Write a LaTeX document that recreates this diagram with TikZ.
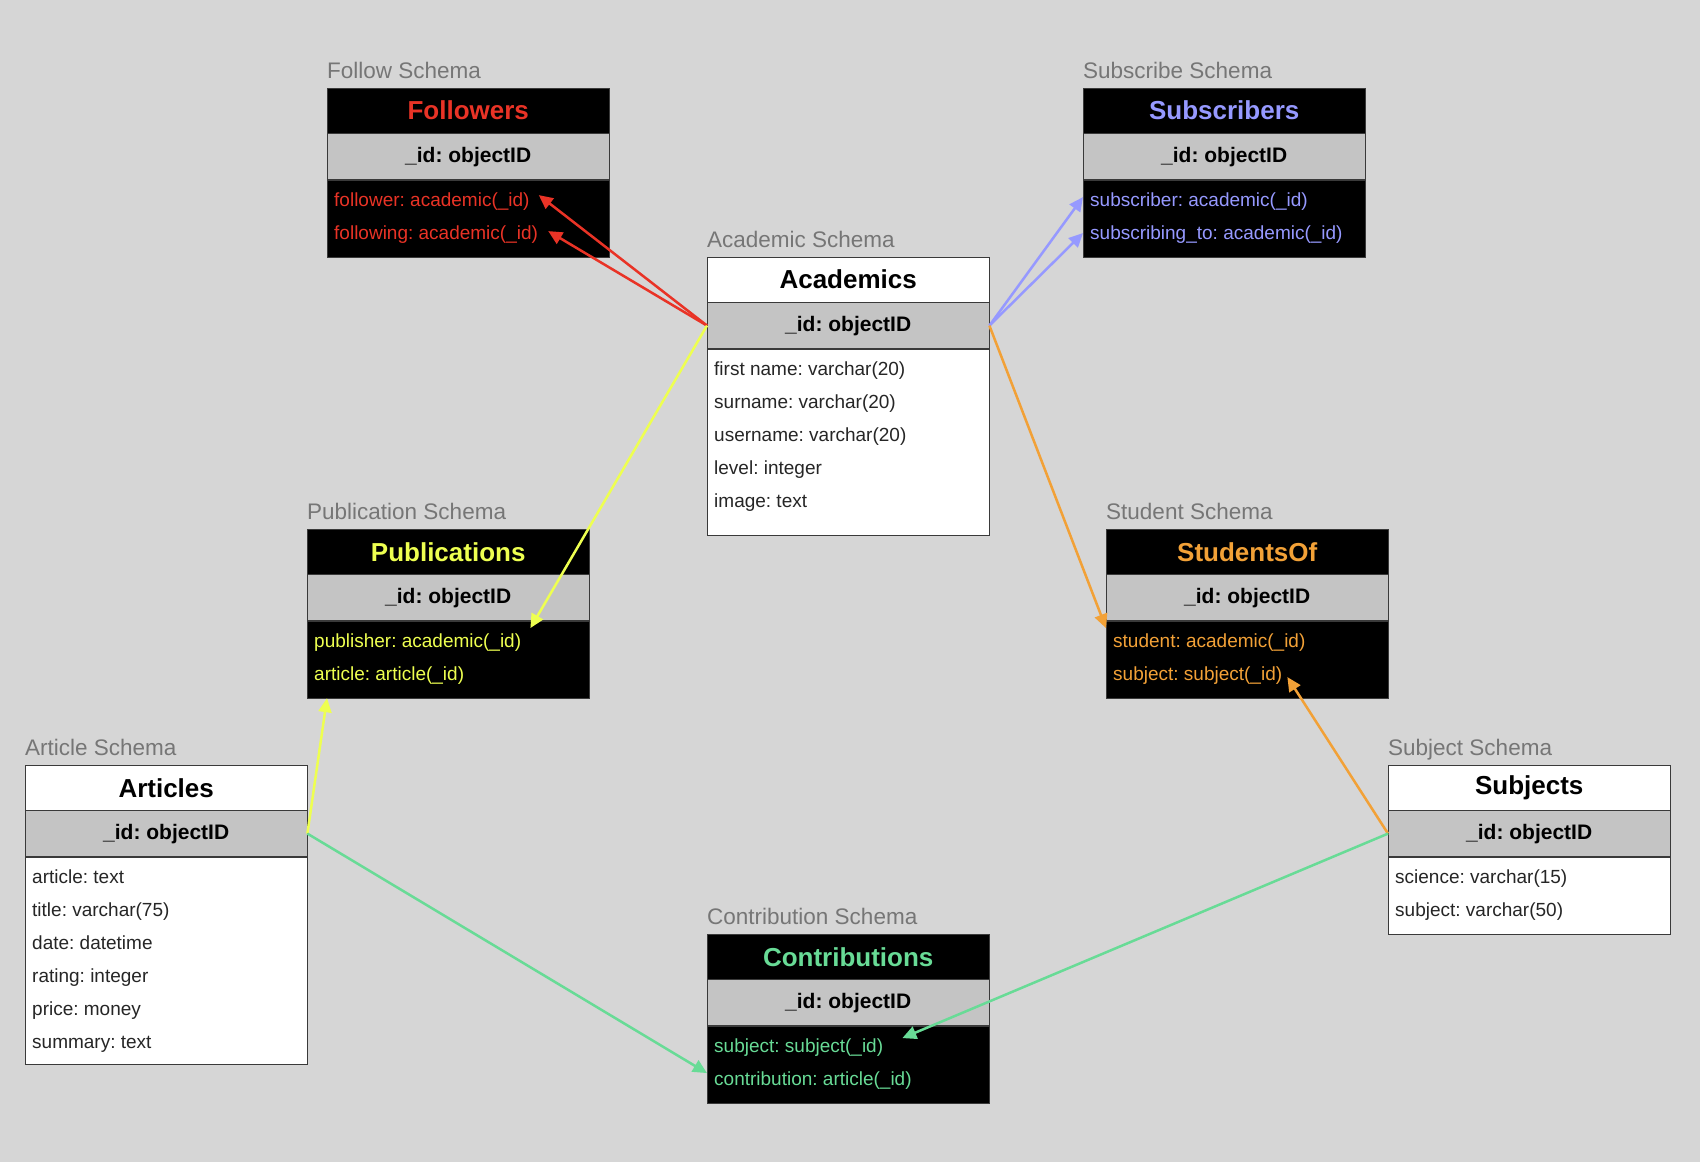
\documentclass[tikz,border=0pt]{standalone}
\usepackage{fontspec}
\setmainfont{Liberation Sans}
\usetikzlibrary{arrows.meta}
\frenchspacing
\definecolor{bggrey}{HTML}{D6D6D6}
\definecolor{idgrey}{HTML}{C4C4C4}
\definecolor{labelgrey}{HTML}{767676}
\definecolor{edgegrey}{HTML}{3A3A3A}
\definecolor{fkred}{RGB}{233,51,38}
\definecolor{fkblue}{RGB}{150,153,255}
\definecolor{fkyellow}{RGB}{238,255,80}
\definecolor{fkorange}{RGB}{242,161,55}
\definecolor{fkgreen}{RGB}{104,219,150}

\begin{document}
\begin{tikzpicture}[
  x=1pt, y=-1pt,
  every node/.style={font=\fontsize{19}{22}\selectfont},
  schema/.style={anchor=base west, inner sep=0pt, text=labelgrey,
    font=\fontsize{22.5}{26}\selectfont},
  head/.style={draw=edgegrey, anchor=north west, minimum width=282pt,
    minimum height=45pt, inner sep=0pt, font=\fontsize{26}{30}\selectfont\bfseries},
  light head/.style={head, fill=white, text=black},
  dark head/.style={head, fill=black},
  idrow/.style={draw=edgegrey, fill=idgrey, anchor=north, minimum width=282pt,
    minimum height=46pt, inner sep=0pt, font=\fontsize{21}{25}\selectfont\bfseries},
  body/.style={draw=edgegrey, anchor=north, minimum width=282pt, inner sep=0pt},
  light body/.style={body, fill=white},
  dark body/.style={body, fill=black},
  row/.style={anchor=base west, inner sep=0pt},
  fk/.style={line width=2.5pt, -{Triangle[length=14pt,width=13pt]}}
]
\fill[bggrey] (0,0) rectangle (1700,1162);

\node[schema] (follow-label) at (327,78) {Follow Schema};
\node[dark head, text=fkred] (followers) at (327,88) {Followers};
\node[idrow] (followers-id) at (followers.south) {\_id: objectID};
\node[dark body, minimum height=77pt] (followers-body) at (followers-id.south) {};
\node[row, text=fkred] (follower) at (334,206) {follower: academic(\_id)};
\node[row, text=fkred] (following) at (334,239) {following: academic(\_id)};

\node[schema] (subscribe-label) at (1083,78) {Subscribe Schema};
\node[dark head, text=fkblue] (subscribers) at (1083,88) {Subscribers};
\node[idrow] (subscribers-id) at (subscribers.south) {\_id: objectID};
\node[dark body, minimum height=77pt] (subscribers-body) at (subscribers-id.south) {};
\node[row, text=fkblue] (subscriber) at (1090,206) {subscriber: academic(\_id)};
\node[row, text=fkblue] (subscribing) at (1090,239) {subscribing\_to: academic(\_id)};

\node[schema] (academic-label) at (707,247) {Academic Schema};
\node[light head] (academics) at (707,257) {Academics};
\node[idrow] (academics-id) at (academics.south) {\_id: objectID};
\node[light body, minimum height=186pt] (academics-body) at (academics-id.south) {};
\node[row, text=black!85] (firstname) at (714,375) {first name: varchar(20)};
\node[row, text=black!85] (surname) at (714,408) {surname: varchar(20)};
\node[row, text=black!85] (username) at (714,441) {username: varchar(20)};
\node[row, text=black!85] (level) at (714,474) {level: integer};
\node[row, text=black!85] (image) at (714,507) {image: text};

\node[schema] (publication-label) at (307,519) {Publication Schema};
\node[dark head, text=fkyellow] (publications) at (307,529) {Publications};
\node[idrow] (publications-id) at (publications.south) {\_id: objectID};
\node[dark body, minimum height=77pt] (publications-body) at (publications-id.south) {};
\node[row, text=fkyellow] (publisher) at (314,647) {publisher: academic(\_id)};
\node[row, text=fkyellow] (pub-article) at (314,680) {article: article(\_id)};

\node[schema] (student-label) at (1106,519) {Student Schema};
\node[dark head, text=fkorange] (students) at (1106,529) {StudentsOf};
\node[idrow] (students-id) at (students.south) {\_id: objectID};
\node[dark body, minimum height=77pt] (students-body) at (students-id.south) {};
\node[row, text=fkorange] (student) at (1113,647) {student: academic(\_id)};
\node[row, text=fkorange] (stu-subject) at (1113,680) {subject: subject(\_id)};

\node[schema] (article-label) at (25,755) {Article Schema};
\node[light head] (articles) at (25,765) {Articles};
\node[idrow] (articles-id) at (articles.south) {\_id: objectID};
\node[light body, minimum height=207pt] (articles-body) at (articles-id.south) {};
\node[row, text=black!85] (article) at (32,883) {article: text};
\node[row, text=black!85] (title) at (32,916) {title: varchar(75)};
\node[row, text=black!85] (date) at (32,949) {date: datetime};
\node[row, text=black!85] (rating) at (32,982) {rating: integer};
\node[row, text=black!85] (price) at (32,1015) {price: money};
\node[row, text=black!85] (summary) at (32,1048) {summary: text};

\node[schema] (subject-label) at (1388,755) {Subject Schema};
\node[light head] (subjects) at (1388,765) {Subjects};
\node[idrow] (subjects-id) at (subjects.south) {\_id: objectID};
\node[light body, minimum height=77pt] (subjects-body) at (subjects-id.south) {};
\node[row, text=black!85] (science) at (1395,883) {science: varchar(15)};
\node[row, text=black!85] (subject) at (1395,916) {subject: varchar(50)};

\node[schema] (contribution-label) at (707,924) {Contribution Schema};
\node[dark head, text=fkgreen] (contributions) at (707,934) {Contributions};
\node[idrow] (contributions-id) at (contributions.south) {\_id: objectID};
\node[dark body, minimum height=77pt] (contributions-body) at (contributions-id.south) {};
\node[row, text=fkgreen] (con-subject) at (714,1052) {subject: subject(\_id)};
\node[row, text=fkgreen] (contribution) at (714,1085) {contribution: article(\_id)};

\draw[fk, fkred] (academics-id.west) -- ([xshift=9pt,yshift=6pt]follower.east);
\draw[fk, fkred] (academics-id.west) -- ([xshift=10pt,yshift=3pt]following.east);
\draw[fk, fkblue] (academics-id.east) -- ([yshift=4pt]subscribers-body.west |- subscriber);
\draw[fk, fkblue] (academics-id.east) -- ([yshift=1pt]subscribers-body.west |- subscribing);
\draw[fk, fkyellow] (academics-id.west) -- ([xshift=9pt,yshift=14pt]publisher.east);
\draw[fk, fkyellow] (articles-id.east) -- ([xshift=20pt]publications-body.south west);
\draw[fk, fkorange] (academics-id.east) -- ([yshift=14pt]students-body.west |- student);
\draw[fk, fkorange] (subjects-id.west) -- ([xshift=5pt,yshift=-2pt]stu-subject.east);
\draw[fk, fkgreen] (articles-id.east) -- ([yshift=7pt]contributions-body.west |- contribution);
\draw[fk, fkgreen] (subjects-id.west) -- ([xshift=19pt,yshift=9pt]con-subject.east);
\end{tikzpicture}
\end{document}
